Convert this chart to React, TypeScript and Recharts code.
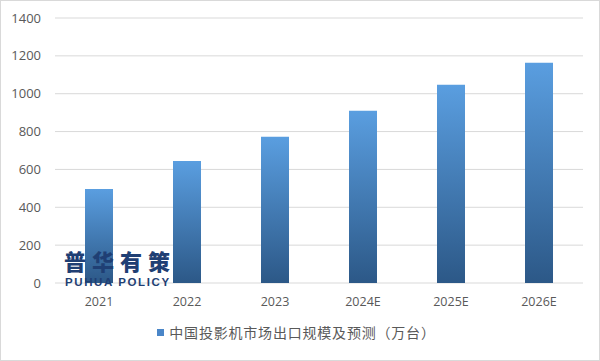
import React from "react";
import { BarChart, Bar, XAxis, YAxis, CartesianGrid, Legend } from "recharts";

const categories = ["2021", "2022", "2023", "2024E", "2025E", "2026E"];
const exportVolume = [497, 645, 773, 910, 1047, 1163];
const yTicks = [0, 200, 400, 600, 800, 1000, 1200, 1400];
const seriesName = "中国投影机市场出口规模及预测（万台）";
const watermarkCn = "普华有策";
const watermarkEn = "PUHUA POLICY";

const data = categories.map((c, i) => ({ year: c, value: exportVolume[i] }));

const FONT = "'Noto Sans CJK SC', 'Open Sans', sans-serif";
const NUMFONT = "'Open Sans', 'Noto Sans CJK SC', sans-serif";

const LegendContent = () => (
  <div style={{ display: "flex", justifyContent: "center", alignItems: "center", fontFamily: FONT, fontSize: 14, letterSpacing: 0.8, color: "#595959", paddingLeft: 10 }}>
    <span style={{ display: "inline-block", width: 7, height: 7, background: "#4a86c8", marginRight: 5 }} />
    <span>{seriesName}</span>
  </div>
);

export default function App() {
  return (
    <div style={{ position: "absolute", left: 0, top: 0, width: 598, height: 359, border: "1px solid #d9d9d9", background: "#fff" }}>
      <div style={{ position: "absolute", left: -1, top: -1 }}>
        <BarChart width={600} height={361} data={data} margin={{ top: 18, right: 17, left: 0, bottom: 0 }}>
          <defs>
            <linearGradient id="barGrad" x1="0" y1="0" x2="0" y2="1">
              <stop offset="0%" stopColor="#5a9ee0" />
              <stop offset="100%" stopColor="#2c5887" />
            </linearGradient>
          </defs>
          <CartesianGrid vertical={false} stroke="#d9d9d9" />
          <XAxis dataKey="year" height={48} axisLine={false} tickLine={false} tickSize={0} tickMargin={14}
            tick={{ fill: "#595959", fontSize: 12.5, fontFamily: NUMFONT }} interval={0} />
          <YAxis width={55} domain={[0, 1400]} ticks={yTicks} axisLine={false} tickLine={false} tickSize={0} tickMargin={14}
            tick={{ fill: "#595959", fontSize: 13, fontFamily: NUMFONT }} />
          <Bar dataKey="value" name={seriesName} fill="url(#barGrad)" barSize={28} isAnimationActive={false} />
          <Legend verticalAlign="bottom" height={30} content={<LegendContent />} wrapperStyle={{ top: 322 }} />
        </BarChart>
      </div>
      <div style={{ position: "absolute", left: 63, top: 247, fontFamily: FONT, fontWeight: 900, fontSize: 22, lineHeight: "24px", letterSpacing: 6, color: "#1f3f74", whiteSpace: "nowrap" }}>{watermarkCn}</div>
      <div style={{ position: "absolute", left: 64, top: 276, fontFamily: "'Liberation Sans', Arial, sans-serif", fontWeight: 700, fontSize: 11.5, lineHeight: "11px", letterSpacing: 1.6, color: "#1f3f74", whiteSpace: "nowrap" }}>{watermarkEn}</div>
    </div>
  );
}
